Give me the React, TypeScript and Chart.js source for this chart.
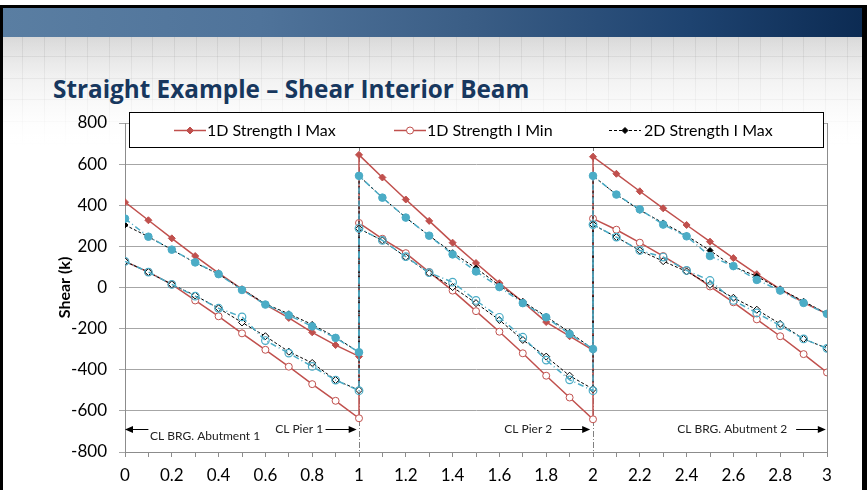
import React, { useEffect, useRef } from 'react';
import { Chart, registerables } from 'chart.js';

Chart.register(...registerables);

// ---------- data ----------
const positions = [
  0, 0.1, 0.2, 0.3, 0.4, 0.5, 0.6, 0.7, 0.8, 0.9, 1,
  1, 1.1, 1.2, 1.3, 1.4, 1.5, 1.6, 1.7, 1.8, 1.9, 2,
  2, 2.1, 2.2, 2.3, 2.4, 2.5, 2.6, 2.7, 2.8, 2.9, 3,
];

const max1D = [
  415, 327, 239, 153, 70, -8, -83, -148, -218, -280, -335,
  645, 535, 428, 324, 218, 119, 21, -70, -168, -237, -305,
  636, 553, 468, 385, 304, 223, 143, 65, -8, -73, -128,
];
const min1D = [
  127, 75, 15, -63, -140, -223, -303, -385, -470, -551, -636,
  314, 237, 167, 75, -15, -115, -215, -320, -429, -535, -641,
  335, 281, 218, 153, 83, 5, -72, -155, -237, -324, -413,
];
const max2D = [
  304, 247, 184, 120, 65, -8, -80, -128, -180, -242, -315,
  543, 437, 340, 252, 169, 94, 10, -68, -141, -218, -299,
  543, 452, 376, 314, 252, 180, 102, 54, -8, -67, -128,
];
const min2D = [
  127, 75, 15, -39, -101, -170, -237, -312, -367, -450, -499,
  286, 229, 148, 70, 2, -76, -158, -255, -336, -429, -494,
  306, 245, 180, 128, 78, 13, -50, -108, -177, -250, -296,
];
const max3D = [
  335, 247, 184, 122, 65, -12, -83, -135, -189, -245, -315,
  543, 437, 340, 252, 161, 78, 2, -76, -145, -226, -299,
  543, 452, 380, 306, 249, 153, 104, 37, -15, -75, -128,
];
const min3D = [
  127, 75, 15, -42, -101, -143, -258, -319, -384, -450, -502,
  288, 229, 150, 72, 26, -63, -145, -242, -353, -449, -502,
  306, 245, 180, 148, 83, 34, -63, -124, -185, -250, -296,
];

const legendNames = ['1D Strength I Max', '1D Strength I Min', '2D Strength I Max'];
const hiddenNames = ['2D Strength I Min', '3D Strength I Max', '3D Strength I Min'];

const yMin = -800;
const yMax = 800;
const yStep = 200;
const xMin = 0;
const xMax = 3;
const xStep = 0.1;

const supportLines = [1, 2];

const annotations = [
  { text: 'CL BRG. Abutment 1', textX: 0.107, textY: -722, align: 'left', arrowFrom: 0.1, arrowTo: 0, arrowY: -690 },
  { text: 'CL Pier 1', textX: 0.847, textY: -690, align: 'right', arrowFrom: 0.857, arrowTo: 0.99, arrowY: -690 },
  { text: 'CL Pier 2', textX: 1.826, textY: -690, align: 'right', arrowFrom: 1.862, arrowTo: 1.988, arrowY: -690 },
  { text: 'CL BRG. Abutment 2', textX: 2.83, textY: -690, align: 'right', arrowFrom: 2.868, arrowTo: 2.995, arrowY: -690 },
];

const RED = '#C0504D';
const CYAN = '#4BACC6';
const BLACK = '#000000';
const FONT = 'Lato, "Open Sans", sans-serif';

const toPoints = (vals: number[]) => vals.map((v, i) => ({ x: positions[i], y: v }));

function drawMarker(ctx: CanvasRenderingContext2D, style: string, x: number, y: number, r: number, fill: string, stroke: string) {
  ctx.beginPath();
  if (style === 'circle') {
    ctx.arc(x, y, r, 0, Math.PI * 2);
  } else {
    ctx.moveTo(x, y - r);
    ctx.lineTo(x + r, y);
    ctx.lineTo(x, y + r);
    ctx.lineTo(x - r, y);
    ctx.closePath();
  }
  ctx.fillStyle = fill;
  ctx.fill();
  ctx.lineWidth = 1;
  ctx.strokeStyle = stroke;
  ctx.stroke();
}

const overlayPlugin = {
  id: 'overlayPlugin',
  beforeDatasetsDraw(chart: any) {
    const { ctx, chartArea, scales } = chart;
    const x = scales.x;
    ctx.save();
    ctx.strokeStyle = '#808080';
    ctx.lineWidth = 1;
    ctx.setLineDash([6, 2, 1, 2]);
    supportLines.forEach((v) => {
      const px = Math.round(x.getPixelForValue(v)) + 0.5;
      ctx.beginPath();
      ctx.moveTo(px, chartArea.top);
      ctx.lineTo(px, chartArea.bottom);
      ctx.stroke();
    });
    ctx.setLineDash([]);
    ctx.strokeStyle = '#8c8c8c';
    const rx = Math.round(x.getPixelForValue(xMax)) + 0.5;
    ctx.beginPath();
    ctx.moveTo(rx, chartArea.top);
    ctx.lineTo(rx, chartArea.bottom);
    ctx.stroke();
    ctx.restore();
  },
  afterDraw(chart: any) {
    const { ctx, scales } = chart;
    const x = scales.x;
    const y = scales.y;
    ctx.save();
    ctx.font = `12px ${FONT}`;
    ctx.textBaseline = 'middle';
    annotations.forEach((a) => {
      ctx.textAlign = a.align;
      ctx.fillStyle = '#222';
      ctx.fillText(a.text, x.getPixelForValue(a.textX), y.getPixelForValue(a.textY));
      const x1 = x.getPixelForValue(a.arrowFrom);
      const x2 = x.getPixelForValue(a.arrowTo);
      const ay = Math.round(y.getPixelForValue(a.arrowY)) + 0.5;
      const dir = x2 > x1 ? 1 : -1;
      ctx.strokeStyle = '#000';
      ctx.lineWidth = 1;
      ctx.beginPath();
      ctx.moveTo(x1, ay);
      ctx.lineTo(x2 - dir * 6, ay);
      ctx.stroke();
      ctx.fillStyle = '#000';
      ctx.beginPath();
      ctx.moveTo(x2, ay);
      ctx.lineTo(x2 - dir * 8, ay - 3.5);
      ctx.lineTo(x2 - dir * 8, ay + 3.5);
      ctx.closePath();
      ctx.fill();
    });

    // legend box
    const bx = 129.5, by = 112.5, bw = 694, bh = 35;
    ctx.fillStyle = '#ffffff';
    ctx.fillRect(bx, by, bw, bh);
    ctx.strokeStyle = '#000';
    ctx.lineWidth = 1;
    ctx.strokeRect(bx, by, bw, bh);
    const items = [
      { sx: 174, tx: 207 },
      { sx: 394, tx: 427 },
      { sx: 609, tx: 644 },
    ];
    const cy = 130;
    chart.data.datasets.slice(0, 3).forEach((ds: any, i: number) => {
      const it = items[i];
      ctx.strokeStyle = ds.borderColor;
      ctx.lineWidth = ds.borderWidth;
      ctx.setLineDash(ds.borderDash || []);
      ctx.beginPath();
      ctx.moveTo(it.sx, cy + 0.5);
      ctx.lineTo(it.sx + 32, cy + 0.5);
      ctx.stroke();
      ctx.setLineDash([]);
      drawMarker(ctx, ds.pointStyle === 'circle' ? 'circle' : 'diamond', it.sx + 16, cy + 0.5, ds.pointRadius, ds.pointBackgroundColor, ds.pointBorderColor);
      ctx.font = `16px ${FONT}`;
      ctx.fillStyle = '#000';
      ctx.textAlign = 'left';
      ctx.textBaseline = 'middle';
      ctx.fillText(ds.label, it.tx, cy + 1);
    });
    ctx.restore();
  },
};

export default function App() {
  const canvasRef = useRef<HTMLCanvasElement | null>(null);

  useEffect(() => {
    if (!canvasRef.current) return;
    const chart = new Chart(canvasRef.current, {
      type: 'line',
      data: {
        datasets: [
          {
            label: legendNames[0],
            data: toPoints(max1D),
            borderColor: RED,
            borderWidth: 1.5,
            pointStyle: 'rectRot',
            pointRadius: 3.5,
            pointBackgroundColor: RED,
            pointBorderColor: RED,
            pointBorderWidth: 1,
            order: 3,
          },
          {
            label: legendNames[1],
            data: toPoints(min1D),
            borderColor: RED,
            borderWidth: 1.5,
            pointStyle: 'circle',
            pointRadius: 3.5,
            pointBackgroundColor: '#ffffff',
            pointBorderColor: RED,
            pointBorderWidth: 1,
            order: 3,
          },
          {
            label: legendNames[2],
            data: toPoints(max2D),
            borderColor: BLACK,
            borderWidth: 1,
            borderDash: [3, 2],
            pointStyle: 'rectRot',
            pointRadius: 3,
            pointBackgroundColor: BLACK,
            pointBorderColor: BLACK,
            pointBorderWidth: 1,
            order: 2,
          },
          {
            label: hiddenNames[0],
            data: toPoints(min2D),
            borderColor: BLACK,
            borderWidth: 1,
            borderDash: [3, 2],
            pointStyle: 'rectRot',
            pointRadius: 3.5,
            pointBackgroundColor: '#ffffff',
            pointBorderColor: BLACK,
            pointBorderWidth: 1,
            order: 2,
          },
          {
            label: hiddenNames[1],
            data: toPoints(max3D),
            borderColor: CYAN,
            borderWidth: 1.5,
            borderDash: [6, 3, 1, 3],
            pointStyle: 'circle',
            pointRadius: 3.8,
            pointBackgroundColor: CYAN,
            pointBorderColor: CYAN,
            pointBorderWidth: 1,
            order: 1,
          },
          {
            label: hiddenNames[2],
            data: toPoints(min3D),
            borderColor: CYAN,
            borderWidth: 1.5,
            borderDash: [6, 3, 1, 3],
            pointStyle: 'circle',
            pointRadius: 3.8,
            pointBackgroundColor: 'rgba(255,255,255,0)',
            pointBorderColor: CYAN,
            pointBorderWidth: 1.2,
            order: 1,
          },
        ],
      },
      options: {
        animation: false,
        responsive: true,
        maintainAspectRatio: false,
        devicePixelRatio: 1,
        layout: { padding: { left: 55, right: 40, top: 123, bottom: 0 } },
        plugins: {
          legend: { display: false },
          tooltip: { enabled: false },
          title: { display: false },
        },
        elements: { line: { tension: 0 } },
        scales: {
          x: {
            type: 'linear',
            min: xMin,
            max: xMax,
            afterFit: (s: any) => { s.height = 38; },
            ticks: {
              stepSize: xStep,
              autoSkip: false,
              maxRotation: 0,
              padding: 8,
              color: '#000',
              font: { family: FONT, size: 17 },
              callback: (v: any) => {
                const r = Math.round(Number(v) * 10);
                return r % 2 === 0 ? String(r / 10) : '';
              },
            },
            grid: { drawOnChartArea: false, drawTicks: true, tickLength: 5, color: '#8c8c8c' },
            border: { display: true, color: '#8c8c8c' },
          },
          y: {
            type: 'linear',
            min: yMin,
            max: yMax,
            afterFit: (s: any) => { s.width = 70; },
            ticks: {
              stepSize: yStep,
              padding: 12,
              color: '#000',
              font: { family: FONT, size: 17 },
            },
            grid: { color: '#a6a6a6', tickLength: 6, drawTicks: true },
            border: { display: true, color: '#8c8c8c' },
            title: {
              display: true,
              text: 'Shear (k)',
              color: '#000',
              font: { family: FONT, size: 16, weight: 'bold' },
              padding: 0,
            },
          },
        },
      },
      plugins: [overlayPlugin],
    });
    return () => chart.destroy();
  }, []);

  return (
    <div style={{ position: 'fixed', left: 0, top: 0, width: 867, height: 490, background: '#fff', overflow: 'hidden' }}>
      <div style={{ position: 'absolute', left: 0, top: 5, width: 867, height: 485, background: '#000' }} />
      <div style={{ position: 'absolute', left: 3, top: 8, width: 859, height: 482, background: '#fff' }} />
      <div
        style={{
          position: 'absolute', left: 3, top: 8, width: 859, height: 29,
          background: 'linear-gradient(to right, #5a7ea2 0%, #4f739a 30%, #3a5d85 55%, #1e4370 80%, #0c2b53 100%)',
        }}
      />
      <div
        style={{
          position: 'absolute', left: 3, top: 37, width: 859, height: 110,
          backgroundImage: [
            'linear-gradient(to bottom, rgba(255,255,255,0) 0%, rgba(255,255,255,0.5) 55%, rgba(255,255,255,1) 100%)',
            'repeating-linear-gradient(to right, transparent 0px, transparent 19px, rgba(0,0,0,0.07) 19px, rgba(0,0,0,0.07) 20px, transparent 20px, transparent 21.7px)',
            'repeating-linear-gradient(to bottom, transparent 0px, transparent 19px, rgba(0,0,0,0.07) 19px, rgba(0,0,0,0.07) 20px, transparent 20px, transparent 21.7px)',
            'linear-gradient(to bottom, #d9d9d9 0%, #ececec 40%, #ffffff 100%)',
          ].join(','),
        }}
      />
      <div
        style={{
          position: 'absolute', left: 53, top: 73, whiteSpace: 'nowrap',
          fontFamily: '"Open Sans", Lato, sans-serif', fontWeight: 700, fontSize: 24.3, color: '#17375E', lineHeight: '32px',
        }}
      >
        Straight Example – Shear Interior Beam
      </div>
      <div style={{ position: 'absolute', left: 0, top: 0, width: 867, height: 490 }}>
        <canvas ref={canvasRef} />
      </div>
    </div>
  );
}
